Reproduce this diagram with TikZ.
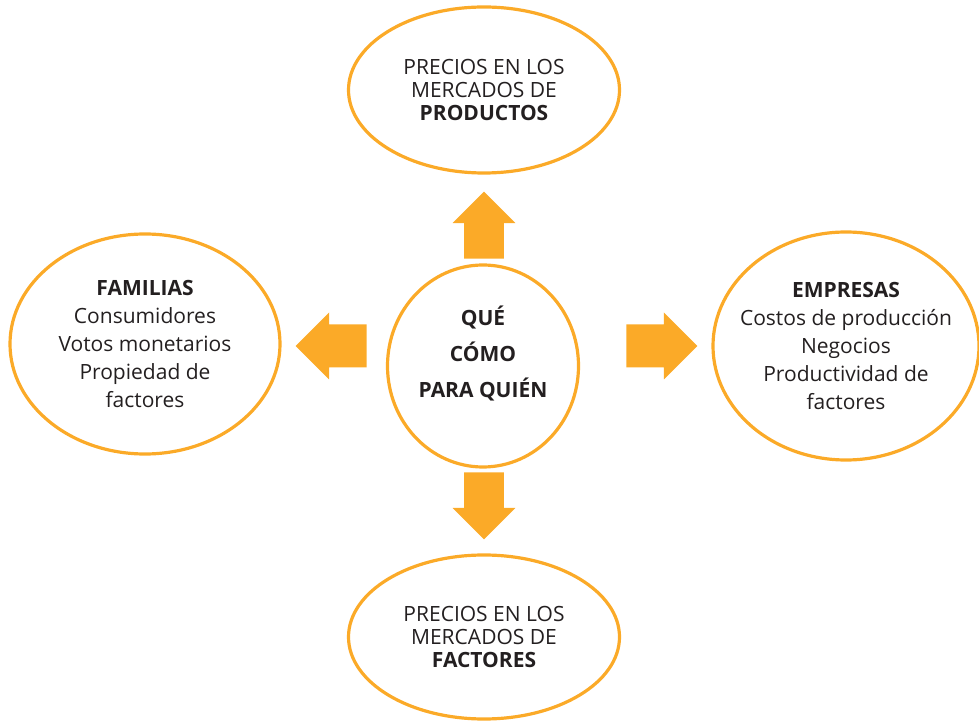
\documentclass[tikz,border=0pt]{standalone}
\usepackage{fontspec}
\setmainfont{Open Sans}
\usetikzlibrary{shapes.geometric,shapes.arrows}

\definecolor{naranja}{RGB}{251,170,40}
\definecolor{texto}{RGB}{35,31,32}

\tikzset{every picture/.style={line width=0.75pt}}
\tikzset{
  burbuja/.style={ellipse, draw=naranja, line width=2.4pt, inner sep=0pt, align=center,
    text=texto, font=\fontsize{15.75}{21}\selectfont},
  flecha/.style={single arrow, fill=naranja, draw=none, inner xsep=0pt, inner ysep=14.6pt,
    single arrow head extend=8.6pt, single arrow tip angle=90, minimum height=50.25pt, anchor=tip},
  flechah/.style={flecha, inner ysep=15.75pt, single arrow head extend=9pt, minimum height=53.25pt}
}

\begin{document}
\begin{tikzpicture}[x=0.75pt,y=0.75pt,yscale=-1,xscale=1]
	\useasboundingbox (0,0) rectangle (979,723);

	%Shape: Ellipse (centro)
	\node [burbuja, minimum width=143.25pt, minimum height=151.5pt] (centro) at (483,366) {};
	% Text Node
	\node [align=center, text=texto, font=\fontsize{15.75}{27}\selectfont\bfseries] (preguntas) at (483,354) {QUÉ\\CÓMO\\PARA QUIÉN};

	%Shape: Ellipse (arriba)
	\node [burbuja, font=\fontsize{15.75}{17.6}\selectfont, minimum width=203.25pt, minimum height=124.5pt] (productos) at (484,90)
		{PRECIOS EN LOS\\MERCADOS DE\\\textbf{PRODUCTOS}};
	%Shape: Ellipse (abajo)
	\node [burbuja, font=\fontsize{15.75}{17.6}\selectfont, minimum width=203.25pt, minimum height=123pt] (factores) at (484,637)
		{PRECIOS EN LOS\\MERCADOS DE\\\textbf{FACTORES}};
	%Shape: Ellipse (izquierda)
	\node [burbuja, minimum width=202.5pt, minimum height=165pt] (familias) at (145,344)
		{\textbf{FAMILIAS}\\Consumidores\\Votos monetarios\\Propiedad de\\factores};
	%Shape: Ellipse (derecha)
	\node [burbuja, inner xsep=-12pt, minimum width=199.5pt, minimum height=171pt] (empresas) at (846,346)
		{\textbf{EMPRESAS}\\Costos de producción\\Negocios\\Productividad de\\factores};

	%Block Arrows (placed by their tips)
	\node [flecha, rotate=90] (fArriba) at (484,191) {};
	\node [flecha, rotate=-90] (fAbajo) at (484,540) {};
	\node [flechah, rotate=180] (fIzq) at (295,346) {};
	\node [flechah] (fDer) at (698,346) {};

\end{tikzpicture}
\end{document}
